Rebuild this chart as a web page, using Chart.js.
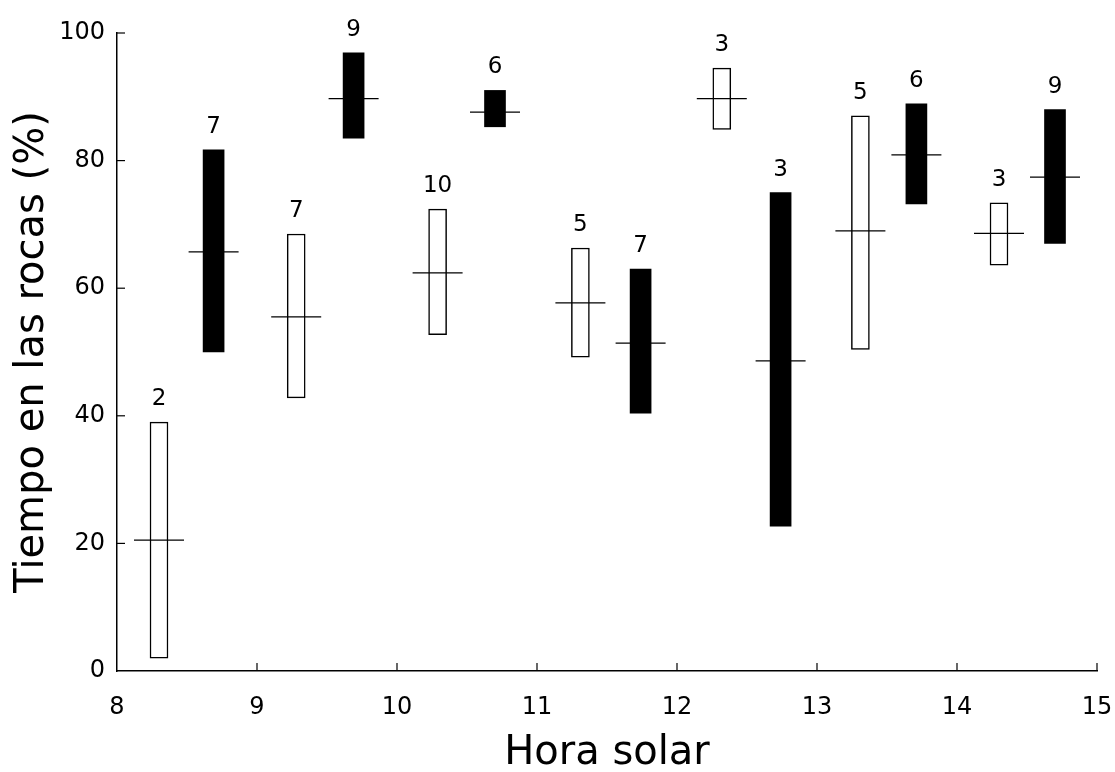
<!DOCTYPE html>
<html>
<head>
<meta charset="utf-8">
<script src="https://cdn.jsdelivr.net/npm/chart.js@4/dist/chart.umd.min.js"></script>
<style>
  html, body { margin: 0; padding: 0; background: #fff; }
  #wrap { width: 1115px; height: 772px; }
</style>
</head>
<body>
<div id="wrap"><canvas id="rocas" width="1115" height="772"></canvas></div>
<script>
// open (white) bars
const openHours = [8.3, 9.28, 10.29, 11.31, 12.32, 13.31, 14.3];
const openLow = [2, 42.8, 52.7, 49.2, 84.9, 50.4, 63.6];
const openHigh = [39, 68.5, 72.4, 66.3, 94.5, 87, 73.4];
const openMean = [20.5, 55.5, 62.4, 57.7, 89.7, 69, 68.6];
const openN = [2, 7, 10, 5, 3, 5, 3];

// filled (black) bars
const filledHours = [8.69, 9.69, 10.7, 11.74, 12.74, 13.71, 14.7];
const filledLow = [50, 83.5, 85.3, 40.4, 22.7, 73.2, 67];
const filledHigh = [81.7, 96.9, 91, 63, 75, 88.9, 88];
const filledMean = [65.7, 89.7, 87.6, 51.4, 48.6, 80.9, 77.4];
const filledN = [7, 9, 6, 7, 3, 6, 9];

const xTicks = [8, 9, 10, 11, 12, 13, 14, 15];
const yTicks = [0, 20, 40, 60, 80, 100];

const FONT = '"DejaVu Sans", sans-serif';

const toRange = (hours, lo, hi) => hours.map((h, i) => ({ x: h, y: [lo[i], hi[i]] }));
const toPoints = (hours, vals) => hours.map((h, i) => ({ x: h, y: vals[i] }));

// inward tick marks + n labels above bars
const extras = {
    id: 'extras',
    afterDatasetsDraw(chart) {
        const ctx = chart.ctx;
        const xs = chart.scales.x;
        const ys = chart.scales.y;
        ctx.save();
        ctx.strokeStyle = '#000';
        ctx.lineWidth = 1.2;
        xTicks.slice(1).forEach(t => {
            const px = xs.getPixelForValue(t);
            ctx.beginPath();
            ctx.moveTo(px, ys.bottom);
            ctx.lineTo(px, ys.bottom - 8);
            ctx.stroke();
        });
        yTicks.slice(1).forEach(t => {
            const py = ys.getPixelForValue(t);
            ctx.beginPath();
            ctx.moveTo(xs.left, py);
            ctx.lineTo(xs.left + 8, py);
            ctx.stroke();
        });

        ctx.fillStyle = '#000';
        ctx.font = '23px ' + FONT;
        ctx.textAlign = 'center';
        ctx.textBaseline = 'alphabetic';
        const label = (hours, hi, n) => {
            hours.forEach((h, i) => {
                ctx.fillText(String(n[i]), xs.getPixelForValue(h), ys.getPixelForValue(hi[i]) - 17);
            });
        };
        label(openHours, openHigh, openN);
        label(filledHours, filledHigh, filledN);
        ctx.restore();
    }
};

new Chart(document.getElementById('rocas'), {
    type: 'bar',
    data: {
        datasets: [
            {
                type: 'scatter',
                data: toPoints(openHours, openMean).concat(toPoints(filledHours, filledMean)),
                pointStyle: 'line',
                pointRadius: 25,
                borderColor: '#000',
                borderWidth: 1.2,
                order: 0
            },
            {
                data: toRange(openHours, openLow, openHigh),
                backgroundColor: '#fff',
                borderColor: '#000',
                borderWidth: 1.5,
                borderSkipped: false,
                barThickness: 18,
                grouped: false,
                order: 1
            },
            {
                data: toRange(filledHours, filledLow, filledHigh),
                backgroundColor: '#000',
                borderColor: '#000',
                borderWidth: 0,
                barThickness: 21,
                grouped: false,
                order: 1
            }
        ]
    },
    options: {
        responsive: false,
        animation: false,
        events: [],
        layout: {
            autoPadding: false,
            padding: { top: 33, right: 18, left: 0, bottom: 0 }
        },
        plugins: {
            legend: { display: false },
            tooltip: { enabled: false }
        },
        scales: {
            x: {
                type: 'linear',
                offset: false,
                min: 8,
                max: 15,
                afterBuildTicks: s => { s.ticks = xTicks.map(v => ({ value: v })); },
                afterFit: s => {
                    s.height = 101;
                    s.paddingLeft = 0;
                    s.paddingRight = 0;
                },
                ticks: {
                    color: '#000',
                    padding: 22,
                    font: { family: FONT, size: 24 }
                },
                grid: { display: false, drawTicks: false },
                border: { display: true, color: '#000', width: 1.5 },
                title: {
                    display: true,
                    text: 'Hora solar',
                    color: '#000',
                    padding: { top: 0, bottom: -2 },
                    font: { family: FONT, size: 40, lineHeight: 1 }
                }
            },
            y: {
                min: 0,
                max: 100,
                afterBuildTicks: s => { s.ticks = yTicks.map(v => ({ value: v })); },
                afterFit: s => { s.width = 117; },
                ticks: {
                    color: '#000',
                    padding: 12,
                    font: { family: FONT, size: 24 }
                },
                grid: { display: false, drawTicks: false },
                border: { display: true, color: '#000', width: 1.5 },
                title: {
                    display: true,
                    text: 'Tiempo en las rocas (%)',
                    color: '#000',
                    padding: { top: 13, bottom: 0 },
                    font: { family: FONT, size: 40, lineHeight: 1 }
                }
            }
        }
    },
    plugins: [extras]
});
</script>
</body>
</html>
